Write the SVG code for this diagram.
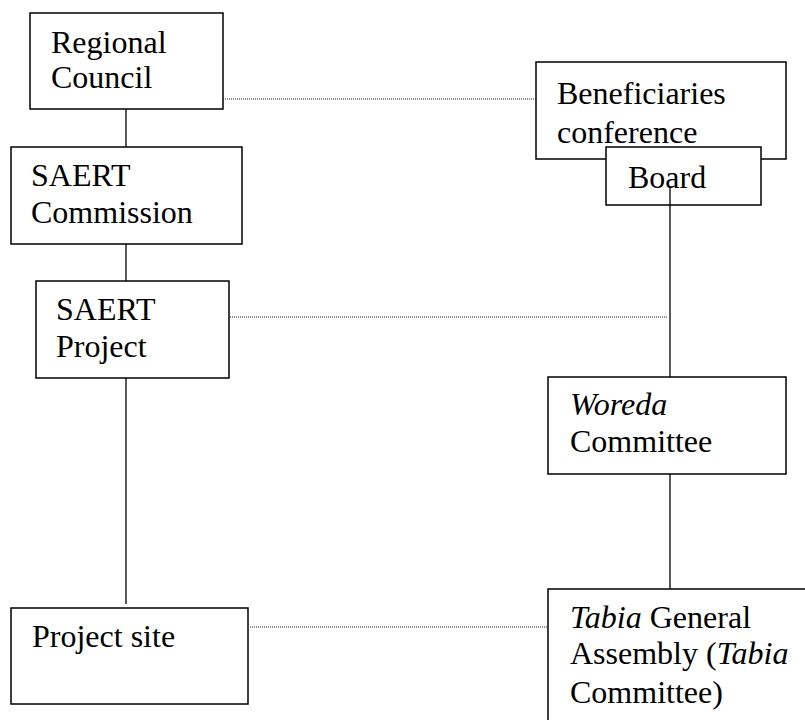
<svg xmlns="http://www.w3.org/2000/svg" width="805" height="720" viewBox="0 0 805 720">
<style>
.box{fill:#fff;stroke:#000;stroke-width:1.5}
text{font-family:'Liberation Serif','Times New Roman',Times,serif;font-size:32px;fill:#000}
.i{font-style:italic}
.solid{stroke:#000;stroke-width:1.3;fill:none}
.dot{stroke:#222;stroke-width:1;stroke-dasharray:1 1;fill:none}
</style>
<rect width="805" height="720" fill="#fff"/>
<g id="regional-council">
<rect class="box" x="30" y="13" width="193" height="96"/>
<text font-family="Liberation Serif, serif" x="51" y="53">Regional</text>
<text font-family="Liberation Serif, serif" x="51" y="88">Council</text>
</g>
<g id="saert-commission">
<rect class="box" x="11" y="147" width="231" height="97"/>
<text font-family="Liberation Serif, serif" x="31" y="186">SAERT</text>
<text font-family="Liberation Serif, serif" x="31" y="223">Commission</text>
</g>
<g id="saert-project">
<rect class="box" x="36" y="281" width="193" height="97"/>
<text font-family="Liberation Serif, serif" x="56" y="320">SAERT</text>
<text font-family="Liberation Serif, serif" x="56" y="357">Project</text>
</g>
<g id="project-site">
<rect class="box" x="11" y="608" width="237" height="96"/>
<text font-family="Liberation Serif, serif" x="32" y="647">Project site</text>
</g>
<g id="beneficiaries-conference">
<rect class="box" x="536" y="62" width="250" height="97"/>
<text font-family="Liberation Serif, serif" x="557" y="104">Beneficiaries</text>
<text font-family="Liberation Serif, serif" x="557" y="143">conference</text>
</g>
<g id="board">
<rect class="box" x="606" y="147" width="155" height="58"/>
<text font-family="Liberation Serif, serif" x="628" y="188">Board</text>
</g>
<g id="woreda-committee">
<rect class="box" x="548" y="377" width="238" height="97"/>
<text font-family="Liberation Serif, serif" x="570" y="415"><tspan class="i">Woreda</tspan></text>
<text font-family="Liberation Serif, serif" x="570" y="452">Committee</text>
</g>
<g id="tabia-general-assembly">
<rect class="box" x="548" y="589" width="270" height="140"/>
<text font-family="Liberation Serif, serif" x="570" y="628"><tspan class="i">Tabia</tspan> General</text>
<text font-family="Liberation Serif, serif" x="570" y="664">Assembly (<tspan class="i">Tabia</tspan></text>
<text font-family="Liberation Serif, serif" x="570" y="703">Committee)</text>
</g>
<g id="connectors">
<line class="solid" x1="126" y1="109" x2="126" y2="147"/>
<line class="solid" x1="126" y1="244" x2="126" y2="281"/>
<line class="solid" x1="126" y1="378" x2="126" y2="604"/>
<line class="solid" x1="670" y1="188" x2="670" y2="377"/>
<line class="solid" x1="670" y1="474" x2="670" y2="589"/>
<line class="dot" x1="223" y1="99" x2="536" y2="99"/>
<line class="dot" x1="230" y1="317" x2="668" y2="317"/>
<line class="dot" x1="250" y1="627" x2="548" y2="627"/>
</g>
</svg>
